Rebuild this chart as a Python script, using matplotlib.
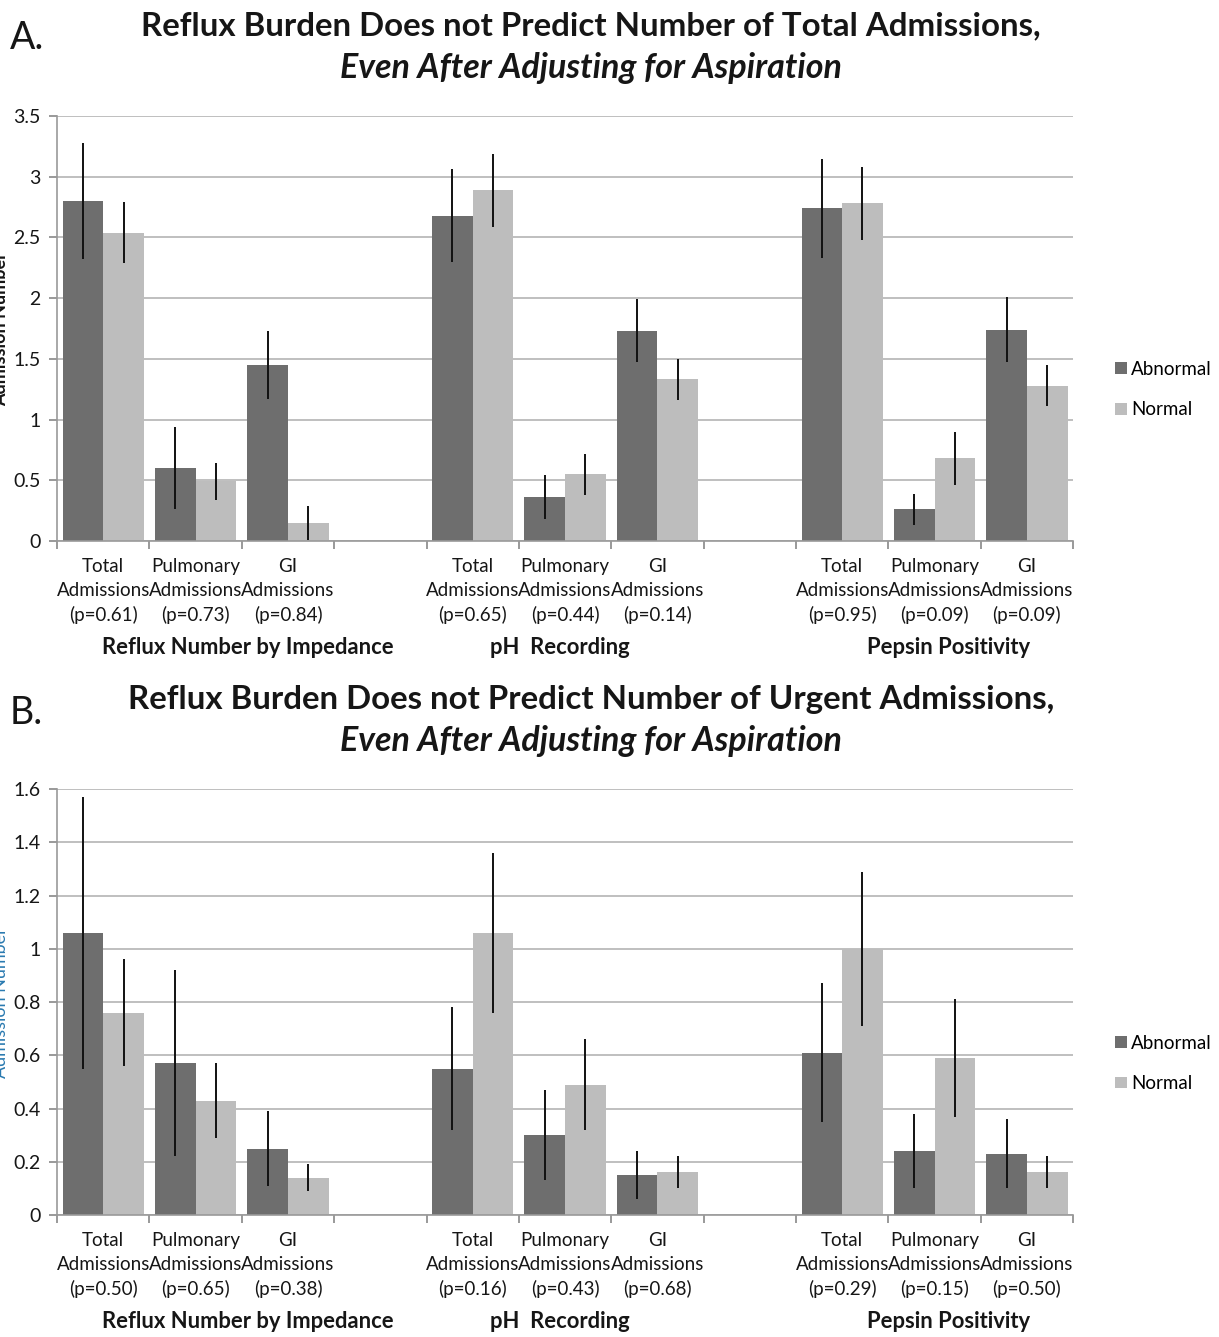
import numpy as np
import matplotlib.pyplot as plt

plt.rcParams['font.family'] = ['Lato', 'DejaVu Sans']

# category slots (empty slot between the three groups)
slots = [0, 1, 2, 4, 5, 6, 8, 9, 10]
cat_labels = ["Total\nAdmissions", "Pulmonary\nAdmissions", "GI\nAdmissions"] * 3
groups = ["Reflux Number by Impedance", "pH  Recording", "Pepsin Positivity"]
group_x = [1.57, 4.94, 9.15]

# panel A: total admissions
a_pvals = ["0.61", "0.73", "0.84", "0.65", "0.44", "0.14", "0.95", "0.09", "0.09"]
a_abn = [2.80, 0.60, 1.45, 2.68, 0.36, 1.73, 2.74, 0.26, 1.74]
a_abn_err = [0.48, 0.34, 0.28, 0.38, 0.18, 0.26, 0.41, 0.13, 0.27]
a_norm = [2.54, 0.49, 0.15, 2.89, 0.55, 1.33, 2.78, 0.68, 1.28]
a_norm_err = [0.25, 0.15, 0.14, 0.30, 0.17, 0.17, 0.30, 0.22, 0.17]

# panel B: urgent admissions
b_pvals = ["0.50", "0.65", "0.38", "0.16", "0.43", "0.68", "0.29", "0.15", "0.50"]
b_abn = [1.06, 0.57, 0.25, 0.55, 0.30, 0.15, 0.61, 0.24, 0.23]
b_abn_err = [0.51, 0.35, 0.14, 0.23, 0.17, 0.09, 0.26, 0.14, 0.13]
b_norm = [0.76, 0.43, 0.14, 1.06, 0.49, 0.16, 1.00, 0.59, 0.16]
b_norm_err = [0.20, 0.14, 0.05, 0.30, 0.17, 0.06, 0.29, 0.22, 0.06]

ABN_COLOR = "#6e6e6e"
NORM_COLOR = "#bdbdbd"
GRID = "#b4b4b4"
TEXT = "#161616"


def draw_panel(ax, abn, abn_err, norm, norm_err, pvals, ymax, ystep):
    x = np.array(slots, dtype=float)
    w = 0.44
    ax.bar(x - w / 2, abn, w, color=ABN_COLOR, label="Abnormal", zorder=2)
    ax.bar(x + w / 2, norm, w, color=NORM_COLOR, label="Normal", zorder=2)
    ax.errorbar(x - w / 2, abn, yerr=abn_err, fmt="none", ecolor="#111111",
                elinewidth=1.4, capsize=0, zorder=3)
    ax.errorbar(x + w / 2, norm, yerr=norm_err, fmt="none", ecolor="#111111",
                elinewidth=1.4, capsize=0, zorder=3)

    ax.set_xlim(-0.5, 10.5)
    ax.set_ylim(0, ymax)
    yt = np.arange(0, ymax + 1e-9, ystep)
    ax.set_yticks(yt)
    ax.set_yticklabels([f"{v:g}" for v in yt], fontsize=14, color=TEXT)
    ax.yaxis.grid(True, color=GRID, lw=1.2, zorder=0)
    ax.set_axisbelow(True)

    labels = [f"{c}\n(p={p})" for c, p in zip(cat_labels, pvals)]
    ax.set_xticks(slots)
    ax.set_xticklabels(labels, fontsize=13.5, color=TEXT, linespacing=1.5)
    ax.tick_params(axis="x", length=0, pad=12)
    ax.set_xticks(np.arange(-0.5, 11, 1.0), minor=True)
    ax.tick_params(axis="x", which="minor", length=6, color="#888888", width=1.2)
    ax.tick_params(axis="y", length=6, color="#888888", width=1.2, pad=6)

    for s in ["top", "right"]:
        ax.spines[s].set_visible(False)
    for s in ["left", "bottom"]:
        ax.spines[s].set_color("#999999")
        ax.spines[s].set_linewidth(1.2)

    for g, gx in zip(groups, group_x):
        ax.text(gx, -0.25, g, transform=ax.get_xaxis_transform(), ha="center",
                va="center", fontsize=15.8, fontweight="bold", color=TEXT)

    ax.legend(loc="center left", bbox_to_anchor=(1.025, 0.356), frameon=False,
              fontsize=13.5, handlelength=0.6, handleheight=0.6, handletextpad=0.25,
              labelspacing=1.25)


fig = plt.figure(figsize=(12.19, 13.37), dpi=100)
ax_a = fig.add_axes([0.0468, 0.5954, 0.8335, 0.3178])
ax_b = fig.add_axes([0.0468, 0.0912, 0.8335, 0.3186])

draw_panel(ax_a, a_abn, a_abn_err, a_norm, a_norm_err, a_pvals, 3.5, 0.5)
draw_panel(ax_b, b_abn, b_abn_err, b_norm, b_norm_err, b_pvals, 1.6, 0.2)

# titles
cx = 591 / 1219
fig.text(cx, 1 - 26 / 1337, "Reflux Burden Does not Predict Number of Total Admissions,",
         ha="center", va="center", fontsize=23.8, fontweight="bold", color=TEXT)
fig.text(cx, 1 - 68 / 1337, "Even After Adjusting for Aspiration",
         ha="center", va="center", fontsize=24.5, fontweight="bold", style="italic", color=TEXT)
fig.text(cx, 1 - 700 / 1337, "Reflux Burden Does not Predict Number of Urgent Admissions,",
         ha="center", va="center", fontsize=23.8, fontweight="bold", color=TEXT)
fig.text(cx, 1 - 741 / 1337, "Even After Adjusting for Aspiration",
         ha="center", va="center", fontsize=24.5, fontweight="bold", style="italic", color=TEXT)

fig.text(0.008, 1 - 38 / 1337, "A.", ha="left", va="center", fontsize=27, color=TEXT)
fig.text(0.008, 1 - 713 / 1337, "B.", ha="left", va="center", fontsize=27, color=TEXT)

# y labels, mostly cut off at the left edge as in the original
fig.text(0.0075, 0.754, "Admission Number", rotation=90, ha="right", va="center",
         fontsize=13, fontweight="bold", color=TEXT)
fig.text(0.0075, 0.25, "Admission Number", rotation=90, ha="right", va="center",
         fontsize=13, color="#2a7ab0")

fig.savefig("out.png", dpi=100)
